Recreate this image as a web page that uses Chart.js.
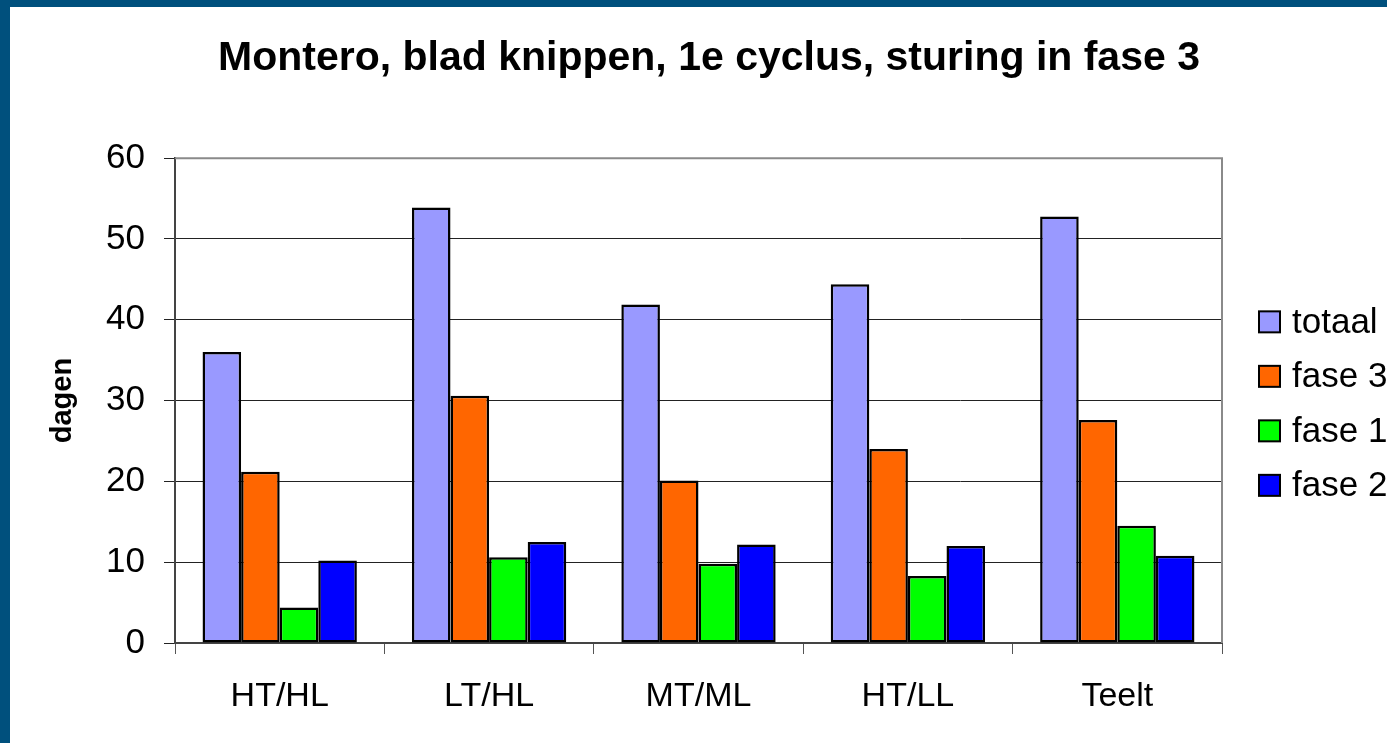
<!DOCTYPE html>
<html><head><meta charset="utf-8">
<script src="https://cdn.jsdelivr.net/npm/chart.js@4.4.1/dist/chart.umd.min.js"></script>
<style>
html,body{margin:0;padding:0;background:#00507D;width:1387px;height:743px;overflow:hidden;position:relative}
#wrap{position:absolute;left:10px;top:7px;width:1398px;height:736px;background:#fff}
</style></head><body>
<div id="wrap"><canvas id="c"></canvas></div>
<script>
const categories = ['HT/HL', 'LT/HL', 'MT/ML', 'HT/LL', 'Teelt'];
const seriesNames = ['totaal', 'fase 3', 'fase 1', 'fase 2'];
const totaal = [36.0, 53.9, 41.9, 44.4, 52.8];
const fase3  = [21.2, 30.6, 20.1, 24.0, 27.6];
const fase1  = [4.4, 10.6, 9.8, 8.3, 14.5];
const fase2  = [10.2, 12.5, 12.2, 12.0, 10.8];
const yTicks = [0, 10, 20, 30, 40, 50, 60];
const seriesColors = ['#9999FF', '#FF6600', '#00FF00', '#0000FF'];

const FONT = '"Liberation Sans", Arial, Helvetica, sans-serif';
Chart.defaults.font.family = FONT;
Chart.defaults.color = '#000';

const sideLegend = {
  id: 'sideLegend',
  afterDraw(chart) {
    const ctx = chart.ctx, ca = chart.chartArea, ds = chart.data.datasets;
    const spacing = 54.5, box = 21;
    const cy = (ca.top + ca.bottom) / 2 + 3;
    const x0 = ca.right + 37;
    ctx.save();
    ctx.font = '35px ' + FONT;
    ctx.textBaseline = 'middle';
    ctx.textAlign = 'left';
    ds.forEach((d, i) => {
      const y = cy + (i - (ds.length - 1) / 2) * spacing;
      ctx.fillStyle = d.backgroundColor;
      ctx.fillRect(x0, y - box / 2, box, box);
      ctx.lineWidth = 2; ctx.strokeStyle = '#000';
      ctx.strokeRect(x0, y - box / 2, box, box);
      ctx.fillStyle = '#000';
      ctx.fillText(d.label, x0 + box + 12, y + 1);
    });
    ctx.restore();
  }
};

const plotBorder = {
  id: 'plotBorder',
  afterDraw(chart) {
    const ctx = chart.ctx, ca = chart.chartArea;
    ctx.save();
    ctx.strokeStyle = '#8a8a8a';
    ctx.lineWidth = 2;
    ctx.beginPath();
    ctx.moveTo(ca.left, ca.top);
    ctx.lineTo(ca.right, ca.top);
    ctx.lineTo(ca.right, ca.bottom);
    ctx.stroke();
    ctx.restore();
  }
};

const seriesData = [totaal, fase3, fase1, fase2];
new Chart(document.getElementById('c'), {
  type: 'bar',
  data: {
    labels: categories,
    datasets: seriesNames.map((n, i) => ({
      label: n,
      data: seriesData[i],
      backgroundColor: seriesColors[i],
      borderColor: '#000',
      borderWidth: 2.5,
      borderSkipped: false,
      categoryPercentage: 0.737,
      barPercentage: 1.0
    }))
  },
  options: {
    responsive: true,
    maintainAspectRatio: false,
    animation: false,
    layout: { padding: 0 },
    plugins: {
      legend: { display: false },
      tooltip: { enabled: false },
      title: {
        display: true,
        text: 'Montero, blad knippen, 1e cyclus, sturing in fase 3',
        font: { size: 41, weight: 'bold', family: FONT },
        color: '#000',
        padding: { top: 27, bottom: 75 }
      }
    },
    scales: {
      x: {
        grid: { display: true, drawOnChartArea: false, drawTicks: true, tickLength: 11, color: '#555', offset: true },
        border: { color: '#444', width: 2 },
        ticks: { font: { size: 34 }, padding: 22, color: '#000', maxRotation: 0, autoSkip: false },
        afterFit(s) { s.height = 100; }
      },
      y: {
        min: 0, max: 60,
        afterBuildTicks(s) { s.ticks = yTicks.map(v => ({ value: v })); },
        grid: { color: '#222', lineWidth: 1, tickLength: 11 },
        border: { color: '#444', width: 2 },
        ticks: { font: { size: 35 }, padding: 19, color: '#000' },
        title: { display: true, text: 'dagen', font: { size: 29, weight: 'bold' }, color: '#000', padding: { top: 36, bottom: 0 } },
        afterFit(s) { s.width = 165; }
      },
      yRight: {
        position: 'right',
        display: true,
        grid: { display: false },
        border: { display: false },
        ticks: { display: false },
        afterFit(s) { s.width = 186; }
      }
    }
  },
  plugins: [sideLegend, plotBorder]
});
</script>
</body></html>
